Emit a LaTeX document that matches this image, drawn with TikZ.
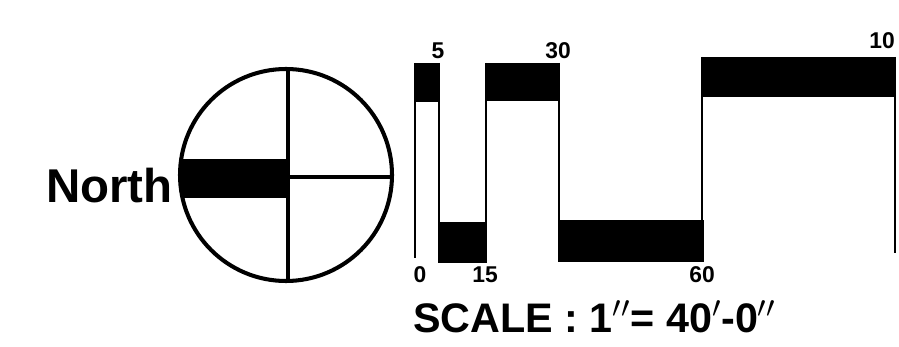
\documentclass[tikz,border=0pt]{standalone}
\usepackage{fontspec}
\setmainfont{Liberation Sans}
\usepackage{tikz}
\tikzset{
  rosa/.style={line width=2.3pt, black},
  trazo/.style={line width=1.1pt, black},
  cifra/.style={font=\fontsize{13}{15}\selectfont\bfseries, inner sep=0pt},
  rotulo/.style={font=\fontsize{27}{30}\selectfont\bfseries, inner sep=0pt}
}

\begin{document}
\begin{tikzpicture}[x=0.02cm, y=-0.02cm]
  \useasboundingbox (0,0) rectangle (899,347);

  % --- Rosa de orientacion ---
  \coordinate (centro) at (286,175);
  \begin{scope}
    \clip (centro) circle (106);
    \fill (170,159) rectangle (288,198);
    \draw[trazo, line width=1.9pt] (288,177) -- (400,177);
    \draw[trazo, line width=2.2pt] (288,60) -- (288,290);
  \end{scope}
  \draw[rosa] (centro) circle (106);
  \node[rotulo, anchor=base east] (norte) at (173,203) {North};

  % --- Escala grafica ---
  \foreach \xa/\xb/\ya/\yb in {415/439/63/102, 439/487/222/263,
      485/559/63/101, 560/704/220/262, 701/895/57/97} {
    \fill (\xa,\ya) rectangle (\xb,\yb);
  }
  \foreach \x/\ya/\yb in {415/63/258, 439/63/263, 486/63/263,
      559/63/262, 702/57/262, 895/57/253} {
    \draw[trazo] (\x,\ya) -- (\x,\yb);
  }

  % Cifras
  \foreach \x/\y/\t/\nombre in {438/51/5/c5, 558/51/30/c30, 882/41/10/c10,
      420/275/0/c0, 485/275/15/c15, 702/275/60/c60} {
    \node[cifra] (\nombre) at (\x,\y) {\t};
  }

  \node[font=\fontsize{23.5}{27}\selectfont\bfseries, inner sep=0pt,
    anchor=base west] (escala) at (413,333) {SCALE : 1$''$= 40$'$-0$''$};

\end{tikzpicture}
\end{document}
